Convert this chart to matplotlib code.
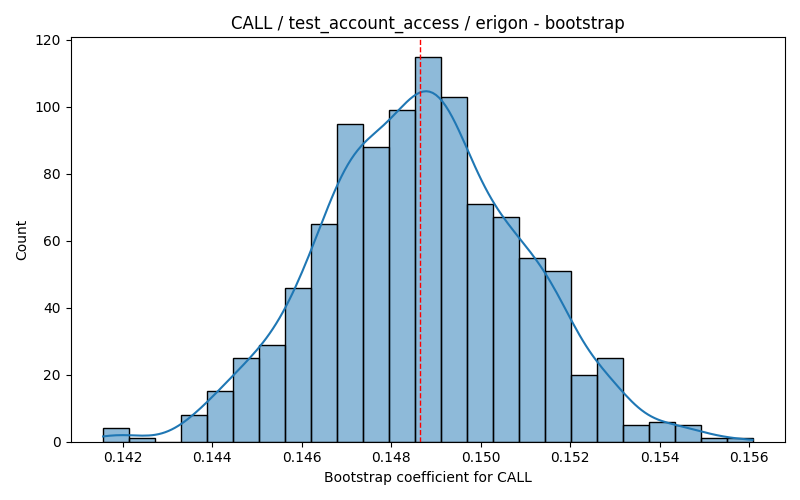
import numpy as np
import matplotlib
matplotlib.use("Agg")
import matplotlib.pyplot as plt

# histogram (1000 bootstrap draws, 25 bins)
counts = [4, 1, 0, 8, 15, 25, 29, 46, 65, 95, 88, 99, 115,
          103, 71, 67, 55, 51, 20, 25, 5, 6, 5, 1, 1]
x_min = 0.141567
x_max = 0.156074
point_estimate = 0.148636

edges = np.linspace(x_min, x_max, len(counts) + 1)
centers = (edges[:-1] + edges[1:]) / 2
width = edges[1] - edges[0]
w = np.array(counts, dtype=float)
n = w.sum()

# gaussian kde on the binned values, scott's rule
mean = np.sum(w * centers) / n
var = np.sum(w * (centers - mean) ** 2) / n
bw = np.sqrt(var) * n ** (-1 / 5)
grid = np.linspace(x_min, x_max, 200)
dens = np.sum(w[:, None] * np.exp(-0.5 * ((grid[None, :] - centers[:, None]) / bw) ** 2), axis=0)
dens = dens / (n * bw * np.sqrt(2 * np.pi))
kde_counts = dens * n * width

fig, ax = plt.subplots(figsize=(8, 5), dpi=100)
ax.bar(centers, counts, width=width, color=(0.122, 0.467, 0.706, 0.5),
       edgecolor="black", linewidth=1)
ax.plot(grid, kde_counts, color="#1f77b4", linewidth=1.5)
ax.axvline(point_estimate, color="red", linestyle="--", linewidth=1)

ax.set_ylim(0, max(counts) * 1.05)
ax.set_title("CALL / test_account_access / erigon - bootstrap")
ax.set_xlabel("Bootstrap coefficient for CALL")
ax.set_ylabel("Count")
plt.tight_layout()
plt.savefig("out.png")
